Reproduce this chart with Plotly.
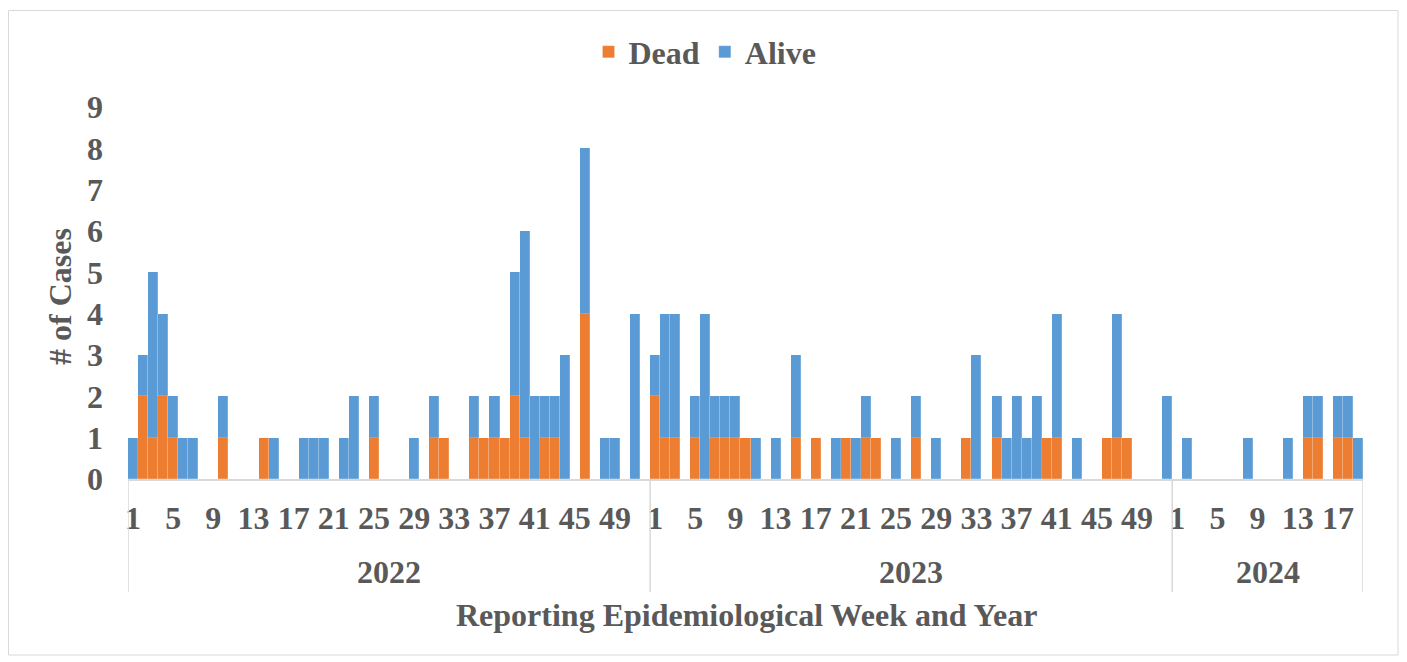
import plotly.graph_objects as go

# ---- data ----
years = [2022, 2023, 2024]
weeks_per_year = [52, 52, 19]

dead_2022 = [0, 2, 1, 2, 1, 0, 0, 0, 0, 1, 0, 0, 0, 1, 0, 0, 0, 0, 0, 0,
             0, 0, 0, 0, 1, 0, 0, 0, 0, 0, 1, 1, 0, 0, 1, 1, 1, 1, 2, 1,
             0, 1, 1, 0, 0, 4, 0, 0, 0, 0, 0, 0]
alive_2022 = [1, 1, 4, 2, 1, 1, 1, 0, 0, 1, 0, 0, 0, 0, 1, 0, 0, 1, 1, 1,
              0, 1, 2, 0, 1, 0, 0, 0, 1, 0, 1, 0, 0, 0, 1, 0, 1, 0, 3, 5,
              2, 1, 1, 3, 0, 4, 0, 1, 1, 0, 4, 0]
dead_2023 = [2, 1, 1, 0, 1, 0, 1, 1, 1, 1, 0, 0, 0, 0, 1, 0, 1, 0, 0, 1,
             0, 1, 1, 0, 0, 0, 1, 0, 0, 0, 0, 1, 0, 0, 1, 0, 0, 0, 0, 1,
             1, 0, 0, 0, 0, 1, 1, 1, 0, 0, 0, 0]
alive_2023 = [1, 3, 3, 0, 1, 4, 1, 1, 1, 0, 1, 0, 1, 0, 2, 0, 0, 0, 1, 0,
              1, 1, 0, 0, 1, 0, 1, 0, 1, 0, 0, 0, 3, 0, 1, 1, 2, 1, 2, 0,
              3, 0, 1, 0, 0, 0, 3, 0, 0, 0, 0, 2]
dead_2024 = [0, 0, 0, 0, 0, 0, 0, 0, 0, 0, 0, 0, 0, 1, 1, 0, 1, 1, 0]
alive_2024 = [0, 1, 0, 0, 0, 0, 0, 1, 0, 0, 0, 1, 0, 1, 1, 0, 1, 1, 1]

tick_weeks = [1, 5, 9, 13, 17, 21, 25, 29, 33, 37, 41, 45, 49]

# ---- build categories ----
categories = []
for y, n in zip(years, weeks_per_year):
    for w in range(1, n + 1):
        categories.append(f"{y}-W{w:02d}")
dead = dead_2022 + dead_2023 + dead_2024
alive = alive_2022 + alive_2023 + alive_2024

tickvals, ticktext = [], []
for y, n in zip(years, weeks_per_year):
    for w in tick_weeks:
        if w <= n:
            tickvals.append(f"{y}-W{w:02d}")
            ticktext.append(str(w))

FONT = "Liberation Serif"
GREY = "#595959"
ORANGE = "#ED7D31"
BLUE = "#5B9BD5"
FS = 32

fig = go.Figure()
fig.add_trace(go.Bar(x=categories, y=dead, name="Dead",
                     marker=dict(color=ORANGE, line=dict(color="rgba(255,255,255,0.3)", width=0.6))))
fig.add_trace(go.Bar(x=categories, y=alive, name="Alive",
                     marker=dict(color=BLUE, line=dict(color="rgba(255,255,255,0.3)", width=0.6))))

OFF = 8  # page body margin
W, H = 1407 - OFF, 662 - OFF
L, R, T, B = 128, 1363, 107, 479  # target plot area in window pixels
pw, ph = R - L, B - T


def px_x(p):
    return (p - L) / pw


def px_y(p):
    return (B - p) / ph


shapes = []
bounds = [-0.5]
start = 0
for n in weeks_per_year:
    start += n
    bounds.append(start - 0.5)
for bx in bounds:
    shapes.append(dict(type="line", xref="x", yref="paper", x0=bx, x1=bx,
                       y0=0, y1=px_y(592), line=dict(color="#D9D9D9", width=1.5)))
# outer chart border
shapes.append(dict(type="rect", xref="paper", yref="paper",
                   x0=px_x(8.5), x1=px_x(1398), y0=px_y(10.5), y1=px_y(655),
                   line=dict(color="#D9D9D9", width=1), layer="below"))

annotations = []
start = 0
for y, n in zip(years, weeks_per_year):
    mid = start + (n - 1) / 2
    annotations.append(dict(x=mid, xref="x", y=px_y(572), yref="paper",
                            text=str(y), showarrow=False, xanchor="center", yanchor="middle",
                            font=dict(family=FONT, size=FS, color=GREY, weight="bold")))
    start += n
annotations.append(dict(x=px_x(746), xref="paper", y=px_y(615), yref="paper",
                        text="Reporting Epidemiological Week and Year", showarrow=False,
                        xanchor="center", yanchor="middle",
                        font=dict(family=FONT, size=FS, color=GREY, weight="bold")))
annotations.append(dict(x=px_x(60), xref="paper", y=px_y(297), yref="paper",
                        text="# of Cases", showarrow=False, textangle=-90,
                        xanchor="center", yanchor="middle",
                        font=dict(family=FONT, size=FS, color=GREY, weight="bold")))

fig.update_layout(
    width=W, height=H,
    margin=dict(l=L - OFF, r=W - (R - OFF), t=T - OFF, b=H - (B - OFF), autoexpand=False),
    paper_bgcolor="white", plot_bgcolor="white",
    barmode="stack", bargap=0,
    showlegend=True,
    legend=dict(orientation="h", x=px_x(705), xanchor="center", y=px_y(52), yanchor="middle",
                font=dict(family=FONT, size=FS, color=GREY, weight="bold"),
                itemwidth=30, traceorder="normal"),
    xaxis=dict(type="category", categoryorder="array", categoryarray=categories,
               range=[-0.5, len(categories) - 0.5],
               tickmode="array", tickvals=tickvals, ticktext=ticktext, tickangle=0,
               ticks="", ticklabelstandoff=10, showgrid=False, zeroline=False,
               showline=True, linecolor="#D9D9D9", linewidth=1.5,
               tickfont=dict(family=FONT, size=FS, color=GREY, weight="bold")),
    yaxis=dict(range=[0, 9], dtick=1, tick0=0, showgrid=False, zeroline=False,
               showline=False, ticks="", ticklabelstandoff=24,
               tickfont=dict(family=FONT, size=FS, color=GREY, weight="bold")),
    shapes=shapes, annotations=annotations,
)

fig.write_html("out.html")
